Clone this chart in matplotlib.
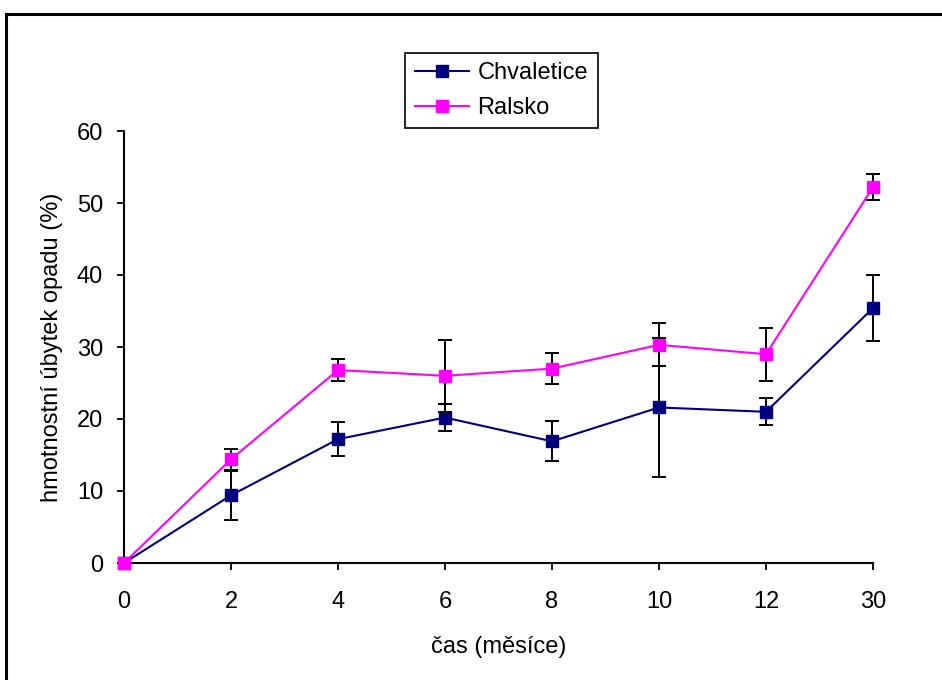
import matplotlib.pyplot as plt
from matplotlib.patches import Rectangle

plt.rcParams['font.family'] = ['Liberation Sans', 'DejaVu Sans']
plt.rcParams['font.size'] = 17

# odběrové termíny (měsíce) a hmotnostní úbytek opadu (%)
months = ['0', '2', '4', '6', '8', '10', '12', '30']
chvaletice = [0, 9.4, 17.2, 20.2, 16.9, 21.6, 21.0, 35.4]
chvaletice_err = [0, 3.4, 2.4, 1.9, 2.8, 9.6, 1.9, 4.6]
ralsko = [0, 14.4, 26.8, 26.0, 27.0, 30.3, 29.0, 52.2]
ralsko_err = [0, 1.5, 1.5, 5.0, 2.1, 3.0, 3.7, 1.8]

W, H = 942, 680
fig = plt.figure(figsize=(W / 100, H / 100), dpi=100)

# rámeček kolem grafu
fig.patches.append(Rectangle((6 / W, -0.1), 1.2, 1 - 13.5 / H + 0.1,
                             transform=fig.transFigure, fill=False,
                             edgecolor='black', linewidth=2.2))

ax = fig.add_axes([124 / W, 1 - 563 / H, (873 - 124) / W, (563 - 131) / H])
x = list(range(len(months)))

ax.errorbar(x, chvaletice, yerr=chvaletice_err, color='#000080', marker='s',
            markersize=8, linewidth=1.5, ecolor='black', elinewidth=1.4,
            capsize=5, capthick=1.4, label='Chvaletice', clip_on=False, zorder=3)
ax.errorbar(x, ralsko, yerr=ralsko_err, color='#FF00FF', marker='s',
            markersize=8, linewidth=1.5, ecolor='black', elinewidth=1.4,
            capsize=5, capthick=1.4, label='Ralsko', clip_on=False, zorder=4)

ax.set_xlim(0, 7)
ax.set_ylim(0, 60)
ax.set_xticks(x)
ax.set_xticklabels(months)
ax.set_yticks(range(0, 61, 10))
ax.tick_params(direction='out', length=5, width=1.3)
ax.tick_params(axis='x', pad=15)
ax.tick_params(axis='y', pad=10)
ax.spines['top'].set_visible(False)
ax.spines['right'].set_visible(False)
ax.spines['left'].set_linewidth(1.5)
ax.spines['bottom'].set_linewidth(1.5)

ax.set_xlabel('čas (měsíce)', va='top')
ax.xaxis.set_label_coords(0.5, -0.17)
ax.set_ylabel('hmotnostní úbytek opadu (%)')
ax.yaxis.set_label_coords(-0.081, 0.5)

handles, labels = ax.get_legend_handles_labels()
handles = [h[0] for h in handles]
leg = fig.legend(handles, labels, loc='center',
                 bbox_to_anchor=(501.5 / W, 1 - 90.5 / H), fancybox=False,
                 edgecolor='black', framealpha=1, handlelength=2.3,
                 handletextpad=0.35, borderpad=0.4, labelspacing=0.55)
leg.get_frame().set_linewidth(1.2)

fig.savefig('out.png', dpi=100)
